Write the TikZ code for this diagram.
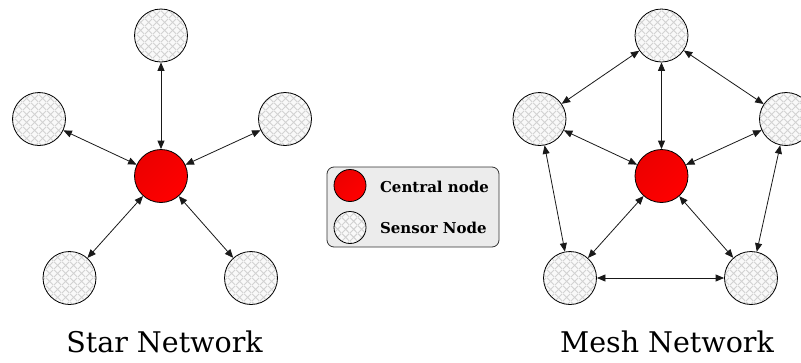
\documentclass[tikz,border=0pt]{standalone}
\usepackage{fontspec}
\setmainfont{DejaVu Serif}
\usetikzlibrary{arrows.meta,patterns.meta,shadings}

% light diagonal lattice used inside the sensor discs
\tikzdeclarepattern{
  name=sensorgrid,
  type=uncolored,
  bounding box={(0pt,0pt) and (7.6pt,7.6pt)},
  tile size={(7.6pt,7.6pt)},
  line width=0.9pt,
  code={\draw (0pt,0pt) -- (7.6pt,7.6pt) (0pt,7.6pt) -- (7.6pt,0pt);}
}

\definecolor{hubred}{RGB}{255,0,0}
\definecolor{hubdark}{RGB}{236,0,0}
\definecolor{legendbg}{RGB}{236,236,236}
\definecolor{gridgray}{RGB}{210,210,210}

\tikzset{
  hub/.style={circle, draw=black, line width=0.8pt, inner sep=0pt,
    minimum size=#1, left color=hubdark, right color=hubred, shading angle=45},
  hub/.default=53pt,
  sensor/.style={circle, draw=black, line width=0.8pt, inner sep=0pt,
    minimum size=#1, preaction={fill=gray!5},
    pattern={sensorgrid}, pattern color=gridgray},
  sensor/.default=53pt,
  link/.style={draw=black!90, line width=0.8pt,
    {Triangle[length=8.5pt,width=7pt]}-{Triangle[length=8.5pt,width=7pt]}},
  title/.style={font=\fontsize{28.5}{34}\selectfont, anchor=base},
  legendtext/.style={font=\bfseries\fontsize{15}{17}\selectfont, anchor=base west},
}

\begin{document}
\begin{tikzpicture}[x=1pt, y=-1pt]
  \useasboundingbox (0,0) rectangle (801,362);
  \clip (0,0) rectangle (801,362);

  % ---------- star topology ----------
  \node[hub]    (sc)  at (161,176)   {};
  \node[sensor] (st)  at (161,35.5)  {};
  \node[sensor] (sul) at (39,119)    {};
  \node[sensor] (sur) at (285,119)   {};
  \node[sensor] (sll) at (69.5,278)  {};
  \node[sensor] (slr) at (251,278)   {};
  \foreach \n in {st,sul,sur,sll,slr} \draw[link] (sc) -- (\n);
  \node[title] (startitle) at (164.5,352.5) {Star Network};

  % ---------- mesh topology ----------
  \node[hub]    (mc)  at (661.5,176)  {};
  \node[sensor] (mt)  at (661.5,35.5) {};
  \node[sensor] (mul) at (539.5,119)  {};
  \node[sensor] (mur) at (786,119)    {};
  \node[sensor] (mll) at (570,278)    {};
  \node[sensor] (mlr) at (751,278)    {};
  \foreach \n in {mt,mul,mur,mll,mlr} \draw[link] (mc) -- (\n);
  \draw[link] (mt) -- (mul);
  \draw[link] (mt) -- (mur);
  \draw[link] (mul) -- (mll);
  \draw[link] (mur) -- (mlr);
  \draw[link] (mll) -- (mlr);
  \node[title] (meshtitle) at (667,352.5) {Mesh Network};

  % ---------- legend ----------
  \node[draw=black!80, line width=0.8pt, fill=legendbg, rounded corners=7pt,
        minimum width=172pt, minimum height=80pt] (legend) at (413,207) {};
  \node[hub=32pt]    (lhub)    at (350,185.5) {};
  \node[sensor=32pt] (lsensor) at (350,227.5) {};
  \node[legendtext] (lhubtext)    at (376.5,192) {Central node};
  \node[legendtext] (lsensortext) at (376.5,233) {Sensor Node};
\end{tikzpicture}
\end{document}
